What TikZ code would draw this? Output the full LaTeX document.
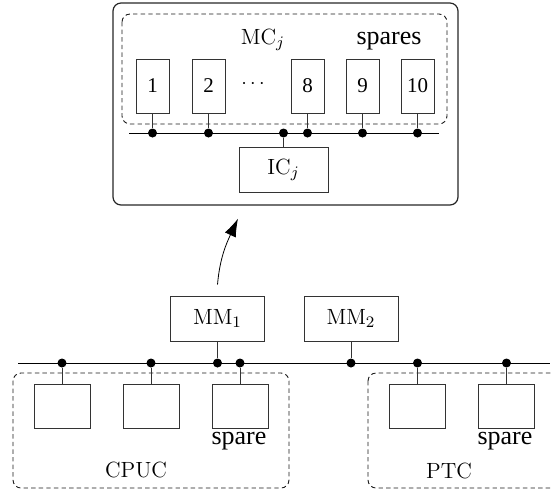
\documentclass[tikz,border=0pt]{standalone}
\usepackage{fontspec}
\newfontfamily\timesfont{Liberation Serif}
\usetikzlibrary{arrows.meta}

\tikzset{
  module/.style={draw=black!80, line width=0.5pt, minimum width=16.5pt, minimum height=27pt, inner sep=0pt, font=\timesfont\fontsize{10.5}{12}\selectfont},
  mmbox/.style={draw=black!80, line width=0.5pt, minimum width=47pt, minimum height=22.5pt, inner sep=0pt, font=\fontsize{11}{13}\selectfont},
  unit/.style={draw=black!80, line width=0.5pt, minimum width=28pt, minimum height=22pt, inner sep=0pt},
  tap/.style={circle, fill, inner sep=0pt, minimum size=4.5pt},
  group/.style={draw=black!90, dash pattern=on 2.2pt off 1.6pt, line width=0.45pt, rounded corners=4pt},
  bus/.style={line width=0.5pt},
  label/.style={font=\fontsize{11}{13}\selectfont},
  sparelabel/.style={font=\timesfont\fontsize{13}{15}\selectfont},
}

\begin{document}
\begin{tikzpicture}[x=0.5pt, y=-0.5pt]
    \useasboundingbox (0,0) rectangle (552,495);

    % Chassis with modules
    \node[draw=black!85, line width=0.6pt, rounded corners=4pt, minimum width=172.5pt, minimum height=101pt, inner sep=0pt] (chassis) at (285.5,104) {};
    \draw[group] (122,14) rectangle (447,124);
    \node[label] (mc) at (263,40) {MC$_j$};
    \node[sparelabel] (spares) at (389,41) {spares};
    \node (dots) at (253,84) {$\cdots$};

    \draw[bus] (129,133) -- (439,133);
    \foreach \n/\x in {1/152.5, 2/208.5, 8/307.5, 9/362.5, 10/417.5} {
        \node[module] (m\n) at (\x,86) {\n};
        \node[tap] (t\n) at (\x,133) {};
        \draw[black!80] (m\n) -- (t\n);
    }

    % Interface controller
    \node[mmbox, minimum width=44.5pt] (ic) at (283.5,169.5) {IC$_j$};
    \node[tap] (tic) at (283.5,133) {};
    \draw[black!80] (ic) -- (tic);

    % Mass memories
    \node[mmbox] (mm1) at (217.5,318.5) {MM$_1$};
    \node[mmbox] (mm2) at (351,318.5) {MM$_2$};
    \node[tap] (tmm1) at (217.5,363) {};
    \node[tap] (tmm2) at (351,363) {};
    \draw[black!80] (mm1) -- (tmm1);
    \draw[black!80] (mm2) -- (tmm2);

    \draw[-{Latex[length=9pt,width=6pt]}] ([yshift=5.5pt]mm1.north) to[out=85, in=-115] ([xshift=-23.75pt, yshift=-6.5pt]chassis.south);

    % Main bus and units
    \draw[bus] (18,363) -- (550,363);
    \draw[group] (13,373) rectangle (289,488);
    \draw[group] (368,373) rectangle (570,488);

    \foreach \u/\x in {a/62, b/151, c/240, d/417.5, e/506.5} {
        \node[unit] (u\u) at (\x,406) {};
        \node[tap] (tu\u) at (\x,363) {};
        \draw[black!80] (u\u) -- (tu\u);
    }

    \node[sparelabel] (sparec) at (239,441) {spare};
    \node[sparelabel] (sparee) at (505,441) {spare};
    \node[label] (cpuc) at (136,470) {CPUC};
    \node[label] (ptc) at (449,471) {PTC};
\end{tikzpicture}
\end{document}
